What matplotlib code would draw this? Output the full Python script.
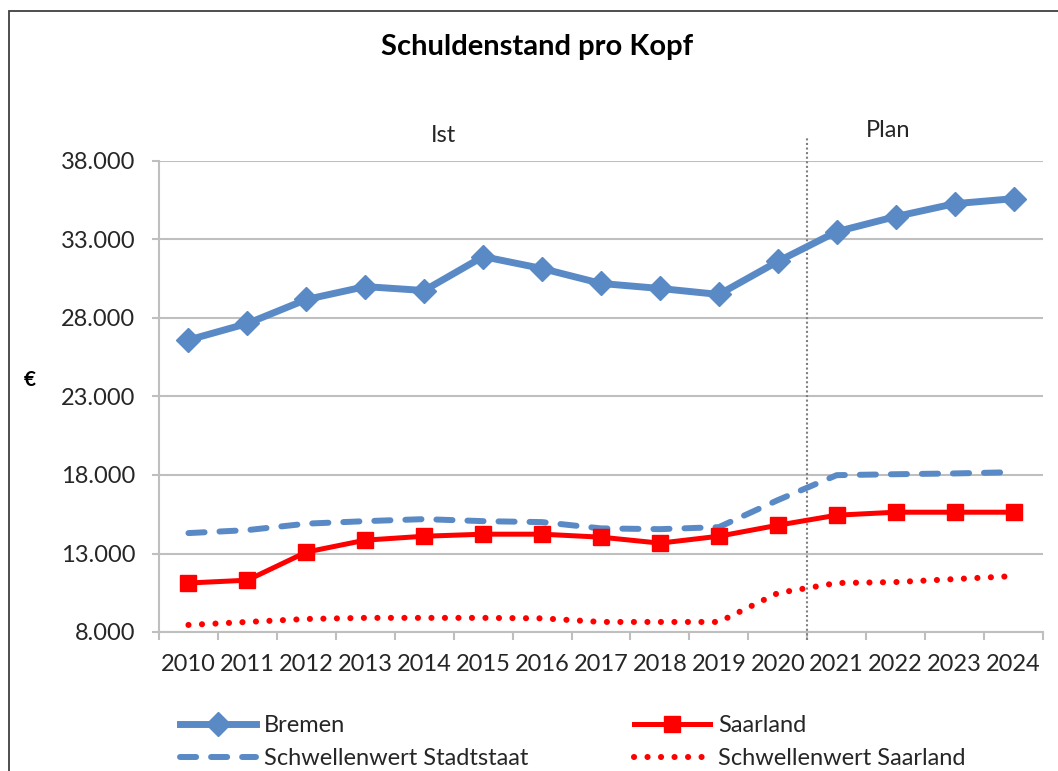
import matplotlib
matplotlib.use("Agg")
import matplotlib.pyplot as plt
import matplotlib.ticker as mticker
from matplotlib.patches import Rectangle
import matplotlib.transforms as mtrans

plt.rcParams['font.family'] = ['Lato', 'DejaVu Sans']

years = [str(y) for y in range(2010, 2025)]
bremen = [26600, 27650, 29180, 30000, 29750, 31910, 31150, 30200, 29880, 29500,
          31600, 33500, 34460, 35280, 35600]
saarland = [11120, 11300, 13090, 13850, 14100, 14230, 14230, 14040, 13660, 14100,
            14800, 15440, 15630, 15630, 15630]
schwelle_stadtstaat = [14300, 14490, 14900, 15060, 15190, 15060, 15000, 14600, 14550, 14680,
                       16400, 17990, 18050, 18100, 18180]
schwelle_saarland = [8450, 8640, 8830, 8900, 8900, 8900, 8870, 8640, 8640, 8640,
                     10480, 11120, 11180, 11370, 11560]
yticks = [8000, 13000, 18000, 23000, 28000, 33000, 38000]
series_labels = ["Bremen", "Saarland", "Schwellenwert Stadtstaat", "Schwellenwert Saarland"]

BLUE = '#5A8AC6'
RED = '#FF0000'
GRID = '#BFBFBF'

W, H = 1058, 771
fig = plt.figure(figsize=(W / 100, H / 100), dpi=100)
ax = fig.add_axes([159 / W, 1 - 632 / H, (1043 - 159) / W, (632 - 161) / H])

x = list(range(len(years)))
l1, = ax.plot(x, bremen, color=BLUE, lw=5, marker='D', ms=12.5, zorder=5,
              label=series_labels[0])
l2, = ax.plot(x, saarland, color=RED, lw=3.6, marker='s', ms=11, zorder=5,
              label=series_labels[1])
l3, = ax.plot(x, schwelle_stadtstaat, color=BLUE, lw=4.3, dashes=(2.7, 2.5),
              dash_capstyle='round', zorder=4, label=series_labels[2])
l4, = ax.plot(x, schwelle_saarland, color=RED, lw=4.4, dashes=(0.01, 2.2),
              dash_capstyle='round', zorder=4, label=series_labels[3])

ax.set_xlim(-0.5, len(years) - 0.5)
ax.set_ylim(yticks[0], yticks[-1])
ax.set_yticks(yticks)
ax.yaxis.set_major_formatter(mticker.FuncFormatter(lambda v, p: f"{int(v):,}".replace(",", ".")))
ax.set_xticks(x)
ax.set_xticklabels(years)
ax.set_xticks([i - 0.5 for i in range(len(years) + 1)], minor=True)
ax.tick_params(axis='x', which='major', length=0, pad=16, labelsize=17, colors='#262626')
ax.tick_params(axis='x', which='minor', length=6, width=1.5, color=GRID)
ax.tick_params(axis='y', which='major', length=5, width=1.5, color=GRID, pad=12,
               labelsize=17, labelcolor='#262626')

ax.grid(axis='y', color=GRID, lw=1.5, zorder=0)
for s in ['top', 'right']:
    ax.spines[s].set_visible(False)
for s in ['left', 'bottom']:
    ax.spines[s].set_color(GRID)
    ax.spines[s].set_linewidth(1.5)

# Ist / Plan separator
trans = mtrans.blended_transform_factory(ax.transData, ax.transAxes)
ax.plot([10.5, 10.5], [-0.017, 1.053], transform=trans, color='#808080', lw=1.5,
        linestyle=(0, (1, 1.2)), clip_on=False, zorder=3)
ax.text(4.32, 1.055, "Ist", transform=trans, ha='center', va='center', fontsize=17,
        color='#262626')
ax.text(11.88, 1.064, "Plan", transform=trans, ha='center', va='center', fontsize=17,
        color='#262626')

fig.text(537 / W, 1 - 47 / H, "Schuldenstand pro Kopf", ha='center', va='center',
         fontsize=21, fontweight='bold', color='#000000')
fig.text(30 / W, 1 - 380 / H, "€", ha='center', va='center', fontsize=15,
         fontweight='bold', color='#000000')

# outer chart frame
fig.patches.append(Rectangle((9 / W, -0.2), 1.2, 1.2 - 11 / H, transform=fig.transFigure,
                             fill=False, edgecolor='#404040', lw=1.3))

# legend filled column-wise: order so rows read Bremen | Saarland, Stadtstaat | Saarland
leg = fig.legend(handles=[l1, l3, l2, l4], loc='upper left',
                 bbox_to_anchor=(180 / W, 1 - 715 / H), ncol=2, frameon=False,
                 fontsize=17, handlelength=3.2, handletextpad=0.35,
                 columnspacing=4.5, labelspacing=0.5, borderpad=0, borderaxespad=0)
for t in leg.get_texts():
    t.set_color('#262626')

fig.savefig("out.png", dpi=100)
